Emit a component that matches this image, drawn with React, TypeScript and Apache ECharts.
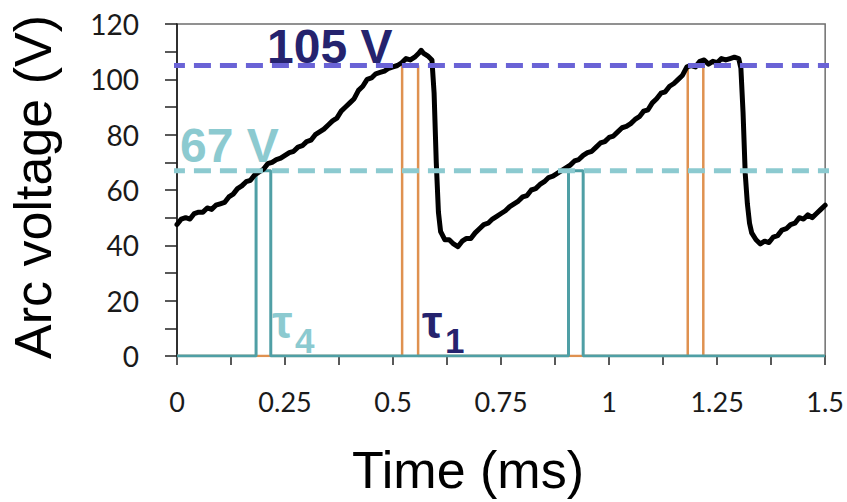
import React, { useEffect, useRef } from "react";
import * as echarts from "echarts";

// Arc voltage trace: [time (ms), voltage (V)]
const arcVoltageTrace: [number, number][] = [
  [0.0, 47.5], [0.01, 49.5], [0.02, 50], [0.03, 49.5], [0.04, 51.5], [0.05, 52], [0.06, 52], [0.07, 53.5],
  [0.08, 53], [0.09, 54.5], [0.1, 55], [0.11, 55.5], [0.12, 57.5], [0.13, 58.5], [0.14, 60.5], [0.15, 61.5],
  [0.16, 63], [0.17, 63.5], [0.18, 65.5], [0.19, 66.5], [0.2, 67.5], [0.21, 69.5], [0.22, 70], [0.23, 71],
  [0.24, 71.5], [0.25, 72.5], [0.26, 73.5], [0.27, 74], [0.28, 75.5], [0.29, 76], [0.3, 77.5], [0.31, 78],
  [0.32, 80], [0.33, 81], [0.34, 82], [0.35, 83.5], [0.36, 85], [0.37, 86], [0.38, 88.5], [0.39, 90],
  [0.4, 91.5], [0.41, 93], [0.42, 96], [0.43, 97.5], [0.44, 100], [0.45, 100.5], [0.46, 102], [0.47, 102.5],
  [0.48, 103], [0.49, 104], [0.5, 104.5], [0.51, 105], [0.52, 106], [0.53, 107.5], [0.54, 107], [0.55, 108],
  [0.56, 109.5], [0.565, 110.5], [0.57, 109.5], [0.58, 108.5], [0.59, 107], [0.595, 95], [0.6, 70], [0.605, 52],
  [0.61, 45], [0.62, 42], [0.63, 42], [0.64, 40.5], [0.65, 39.5], [0.66, 41.5], [0.67, 42.5], [0.68, 42.5],
  [0.69, 44.5], [0.7, 46], [0.71, 47.5], [0.72, 48], [0.73, 49.5], [0.74, 50.5], [0.75, 51.5], [0.76, 52.5],
  [0.77, 54], [0.78, 55], [0.79, 56], [0.8, 57.5], [0.81, 58], [0.82, 60], [0.83, 60.5], [0.84, 62],
  [0.85, 63], [0.86, 64.5], [0.87, 65], [0.88, 66], [0.89, 67], [0.9, 68], [0.91, 69], [0.92, 70.5],
  [0.93, 71], [0.94, 72.5], [0.95, 73.5], [0.96, 74], [0.97, 75.5], [0.98, 77], [0.99, 77.5], [1.0, 79],
  [1.01, 79.5], [1.02, 81], [1.03, 82.5], [1.04, 83], [1.05, 84], [1.06, 85.5], [1.07, 86.5], [1.08, 88.5],
  [1.09, 89], [1.1, 91.5], [1.11, 93], [1.12, 95], [1.13, 95.5], [1.14, 97.5], [1.15, 98.5], [1.16, 100],
  [1.17, 101.5], [1.18, 104.5], [1.19, 105], [1.2, 104.5], [1.21, 106.5], [1.22, 107], [1.23, 105.5], [1.24, 106.5],
  [1.25, 106], [1.26, 107.5], [1.27, 107], [1.28, 107.5], [1.29, 108], [1.3, 107.5], [1.305, 104], [1.31, 88],
  [1.315, 66], [1.32, 55], [1.325, 48], [1.33, 44.5], [1.34, 42], [1.35, 40.5], [1.36, 41.5], [1.37, 41],
  [1.38, 43], [1.39, 43.5], [1.4, 45.5], [1.41, 46], [1.42, 47.5], [1.43, 48], [1.44, 50], [1.45, 49.5],
  [1.46, 51], [1.47, 50], [1.48, 51.5], [1.49, 53], [1.5, 54.5],
];

// τ4 gate pulses (teal) at 67 V threshold
const tau4Times = [0, 0.183, 0.183, 0.217, 0.217, 0.906, 0.906, 0.94, 0.94, 1.5];
const tau4Values = [0, 0, 67, 67, 0, 0, 67, 67, 0, 0];

// τ1 gate pulses (orange) at 105 V threshold
const tau1Times = [0, 0.521, 0.521, 0.558, 0.558, 1.182, 1.182, 1.218, 1.218, 1.5];
const tau1Values = [0, 0, 105, 105, 0, 0, 105, 105, 0, 0];

const thresholdHigh = 105;
const thresholdLow = 67;
const thresholdSpan = [-0.021, 1.522];

const xLabelValues = [0, 0.25, 0.5, 0.75, 1, 1.25, 1.5];
const xLabelTexts = ["0", "0.25", "0.5", "0.75", "1", "1.25", "1.5"];

const NAVY = "#25236e";
const LIGHT_TEAL = "#8ccad0";
const PERIWINKLE = "#6a63d6";
const TEAL = "#4f9fa5";
const ORANGE = "#df9150";

export default function App() {
  const ref = useRef<HTMLDivElement>(null);

  useEffect(() => {
    if (!ref.current) return;
    const chart = echarts.init(ref.current, undefined, { renderer: "svg" });
    const zip = (t: number[], v: number[]) => t.map((x, i) => [x, v[i]]);

    chart.setOption({
      animation: false,
      backgroundColor: "#ffffff",
      grid: {
        left: 177,
        right: 21,
        top: 24,
        bottom: 146,
        show: true,
        borderColor: "#6e6e6e",
        borderWidth: 1.5,
        backgroundColor: "transparent",
      },
      xAxis: {
        type: "value",
        min: 0,
        max: 1.5,
        interval: 0.125,
        splitLine: { show: false },
        axisLine: { show: true, lineStyle: { color: "#111", width: 1.5 } },
        axisTick: { show: true, length: 9, inside: false, lineStyle: { color: "#222", width: 1.5 } },
        axisLabel: {
          margin: 32,
          fontFamily: "Lato",
          fontSize: 27,
          color: "#1a1a1a",
          formatter: (v: number) => {
            const idx = xLabelValues.findIndex((x) => Math.abs(x - v) < 1e-6);
            return idx >= 0 ? xLabelTexts[idx] : "";
          },
        },
      },
      yAxis: {
        type: "value",
        min: 0,
        max: 120,
        interval: 10,
        splitLine: { show: false },
        axisLine: { show: true, lineStyle: { color: "#111", width: 1.5 } },
        axisTick: { show: true, length: 12, lineStyle: { color: "#222", width: 1.5 } },
        axisLabel: {
          margin: 38,
          fontFamily: "Lato",
          fontSize: 28,
          color: "#1a1a1a",
          formatter: (v: number) => (Math.round(v) % 20 === 0 ? String(Math.round(v)) : ""),
        },
      },
      series: [
        {
          type: "line",
          name: "τ1 gate",
          data: zip(tau1Times, tau1Values),
          symbol: "none",
          z: 2,
          lineStyle: { color: ORANGE, width: 2.5 },
        },
        {
          type: "line",
          name: "τ4 gate",
          data: zip(tau4Times, tau4Values),
          symbol: "none",
          z: 3,
          lineStyle: { color: TEAL, width: 3 },
        },
        {
          type: "line",
          name: "Arc voltage",
          data: arcVoltageTrace,
          symbol: "none",
          z: 4,
          lineStyle: { color: "#000", width: 5, join: "round", cap: "round" },
        },
        {
          type: "line",
          name: "105 V",
          data: thresholdSpan.map((t) => [t, thresholdHigh]),
          symbol: "none",
          clip: false,
          z: 5,
          lineStyle: { color: PERIWINKLE, width: 5, type: [17, 9] },
        },
        {
          type: "line",
          name: "67 V",
          data: thresholdSpan.map((t) => [t, thresholdLow]),
          symbol: "none",
          clip: false,
          z: 5,
          lineStyle: { color: LIGHT_TEAL, width: 5, type: [17, 9] },
        },
      ],
      graphic: [
        {
          type: "text",
          x: 267,
          y: 46,
          z: 10,
          style: {
            text: "105 V",
            font: "bold 48px 'Liberation Sans', Arial, sans-serif",
            fill: NAVY,
            align: "left",
            verticalAlign: "middle",
          },
        },
        {
          type: "text",
          x: 180,
          y: 145,
          z: 10,
          style: {
            text: "67 V",
            font: "bold 48px 'Liberation Sans', Arial, sans-serif",
            fill: LIGHT_TEAL,
            align: "left",
            verticalAlign: "middle",
          },
        },
        {
          type: "text",
          x: 272,
          y: 322,
          z: 10,
          style: { text: "τ", font: "bold 46px 'Liberation Sans', Arial, sans-serif", fill: LIGHT_TEAL, align: "left", verticalAlign: "middle" },
        },
        {
          type: "text",
          x: 295,
          y: 340,
          z: 10,
          style: { text: "4", font: "bold 35px 'Liberation Sans', Arial, sans-serif", fill: LIGHT_TEAL, align: "left", verticalAlign: "middle" },
        },
        {
          type: "text",
          x: 422,
          y: 322,
          z: 10,
          style: { text: "τ", font: "bold 46px 'Liberation Sans', Arial, sans-serif", fill: NAVY, align: "left", verticalAlign: "middle" },
        },
        {
          type: "text",
          x: 445,
          y: 340,
          z: 10,
          style: { text: "1", font: "bold 35px 'Liberation Sans', Arial, sans-serif", fill: NAVY, align: "left", verticalAlign: "middle" },
        },
        {
          type: "text",
          x: 468,
          y: 470,
          z: 10,
          style: { text: "Time (ms)", font: "52px 'Liberation Sans', Arial, sans-serif", fill: "#000", align: "center", verticalAlign: "middle" },
        },
        {
          type: "text",
          x: 33,
          y: 187,
          rotation: Math.PI / 2,
          z: 10,
          style: { text: "Arc voltage (V)", font: "52px 'Liberation Sans', Arial, sans-serif", fill: "#000", align: "center", verticalAlign: "middle" },
        },
      ],
    });

    return () => chart.dispose();
  }, []);

  return (
    <div
      ref={ref}
      style={{ position: "fixed", left: 0, top: 0, width: 847, height: 502, background: "#fff" }}
    />
  );
}
